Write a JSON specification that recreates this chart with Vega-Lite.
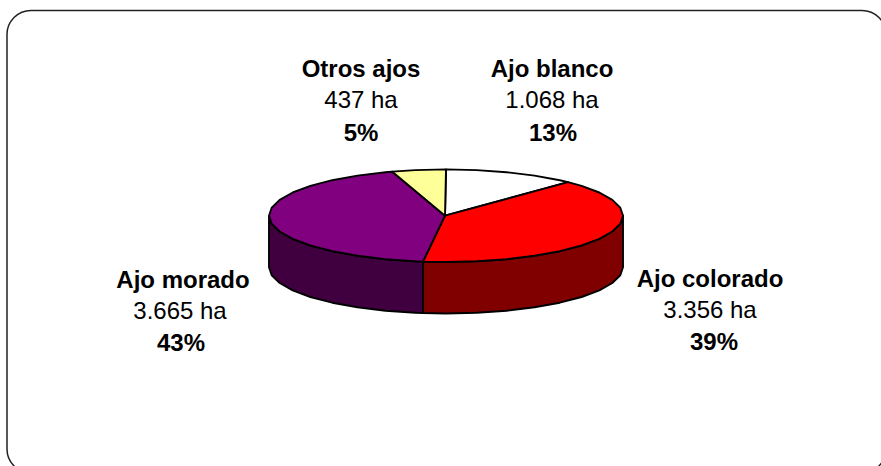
{"$schema":"https://vega.github.io/schema/vega-lite/v6.json","width":881,"height":466,"autosize":{"type":"fit","contains":"padding"},"padding":0,"background":"white","config":{"view":{"stroke":null}},
"datasets":{"frame":[{"x":7,"x2":886,"y":10.5,"y2":473}],
"pie":[
{"part":"Ajo morado lado","o":0,"x":269,"y":215.7},{"part":"Ajo morado lado","o":1,"x":271.7,"y":223.7},{"part":"Ajo morado lado","o":2,"x":279.7,"y":231.5},{"part":"Ajo morado lado","o":3,"x":292.7,"y":238.9},{"part":"Ajo morado lado","o":4,"x":310.4,"y":245.5},{"part":"Ajo morado lado","o":5,"x":332.2,"y":251.2},{"part":"Ajo morado lado","o":6,"x":357.5,"y":255.8},{"part":"Ajo morado lado","o":7,"x":385.5,"y":259.2},{"part":"Ajo morado lado","o":8,"x":415.3,"y":261.3},{"part":"Ajo morado lado","o":9,"x":423,"y":261.6},{"part":"Ajo morado lado","o":10,"x":423,"y":313},{"part":"Ajo morado lado","o":11,"x":415.3,"y":312.8},{"part":"Ajo morado lado","o":12,"x":385.5,"y":310.7},{"part":"Ajo morado lado","o":13,"x":357.5,"y":307.3},{"part":"Ajo morado lado","o":14,"x":332.2,"y":302.7},{"part":"Ajo morado lado","o":15,"x":310.4,"y":297},{"part":"Ajo morado lado","o":16,"x":292.7,"y":290.4},{"part":"Ajo morado lado","o":17,"x":279.7,"y":283},{"part":"Ajo morado lado","o":18,"x":271.7,"y":275.2},{"part":"Ajo morado lado","o":19,"x":269,"y":267.2},{"part":"Ajo morado lado","o":20,"x":269,"y":215.7},
{"part":"Ajo colorado lado","o":0,"x":423,"y":261.6},{"part":"Ajo colorado lado","o":1,"x":446,"y":262},{"part":"Ajo colorado lado","o":2,"x":476.7,"y":261.3},{"part":"Ajo colorado lado","o":3,"x":506.5,"y":259.2},{"part":"Ajo colorado lado","o":4,"x":534.5,"y":255.8},{"part":"Ajo colorado lado","o":5,"x":559.8,"y":251.2},{"part":"Ajo colorado lado","o":6,"x":581.6,"y":245.5},{"part":"Ajo colorado lado","o":7,"x":599.3,"y":238.9},{"part":"Ajo colorado lado","o":8,"x":612.3,"y":231.5},{"part":"Ajo colorado lado","o":9,"x":620.3,"y":223.7},{"part":"Ajo colorado lado","o":10,"x":623,"y":215.7},{"part":"Ajo colorado lado","o":11,"x":623,"y":267.2},{"part":"Ajo colorado lado","o":12,"x":620.3,"y":275.2},{"part":"Ajo colorado lado","o":13,"x":612.3,"y":283},{"part":"Ajo colorado lado","o":14,"x":599.3,"y":290.4},{"part":"Ajo colorado lado","o":15,"x":581.6,"y":297},{"part":"Ajo colorado lado","o":16,"x":559.8,"y":302.7},{"part":"Ajo colorado lado","o":17,"x":534.5,"y":307.3},{"part":"Ajo colorado lado","o":18,"x":506.5,"y":310.7},{"part":"Ajo colorado lado","o":19,"x":476.7,"y":312.8},{"part":"Ajo colorado lado","o":20,"x":446,"y":313.5},{"part":"Ajo colorado lado","o":21,"x":423,"y":313},{"part":"Ajo colorado lado","o":22,"x":423,"y":261.6},
{"part":"Ajo blanco","o":0,"x":445,"y":215.7},{"part":"Ajo blanco","o":1,"x":446,"y":169.4},{"part":"Ajo blanco","o":2,"x":476.7,"y":170.1},{"part":"Ajo blanco","o":3,"x":506.5,"y":172.2},{"part":"Ajo blanco","o":4,"x":534.5,"y":175.6},{"part":"Ajo blanco","o":5,"x":559.8,"y":180.2},{"part":"Ajo blanco","o":6,"x":568,"y":182.1},{"part":"Ajo blanco","o":7,"x":445,"y":215.7},
{"part":"Ajo colorado","o":0,"x":445,"y":215.7},{"part":"Ajo colorado","o":1,"x":568,"y":182.1},{"part":"Ajo colorado","o":2,"x":581.6,"y":185.9},{"part":"Ajo colorado","o":3,"x":599.3,"y":192.5},{"part":"Ajo colorado","o":4,"x":612.3,"y":199.9},{"part":"Ajo colorado","o":5,"x":620.3,"y":207.7},{"part":"Ajo colorado","o":6,"x":623,"y":215.7},{"part":"Ajo colorado","o":7,"x":620.3,"y":223.7},{"part":"Ajo colorado","o":8,"x":612.3,"y":231.5},{"part":"Ajo colorado","o":9,"x":599.3,"y":238.9},{"part":"Ajo colorado","o":10,"x":581.6,"y":245.5},{"part":"Ajo colorado","o":11,"x":559.8,"y":251.2},{"part":"Ajo colorado","o":12,"x":534.5,"y":255.8},{"part":"Ajo colorado","o":13,"x":506.5,"y":259.2},{"part":"Ajo colorado","o":14,"x":476.7,"y":261.3},{"part":"Ajo colorado","o":15,"x":446,"y":262},{"part":"Ajo colorado","o":16,"x":423,"y":261.6},{"part":"Ajo colorado","o":17,"x":445,"y":215.7},
{"part":"Ajo morado","o":0,"x":445,"y":215.7},{"part":"Ajo morado","o":1,"x":423,"y":261.6},{"part":"Ajo morado","o":2,"x":415.3,"y":261.3},{"part":"Ajo morado","o":3,"x":385.5,"y":259.2},{"part":"Ajo morado","o":4,"x":357.5,"y":255.8},{"part":"Ajo morado","o":5,"x":332.2,"y":251.2},{"part":"Ajo morado","o":6,"x":310.4,"y":245.5},{"part":"Ajo morado","o":7,"x":292.7,"y":238.9},{"part":"Ajo morado","o":8,"x":279.7,"y":231.5},{"part":"Ajo morado","o":9,"x":271.7,"y":223.7},{"part":"Ajo morado","o":10,"x":269,"y":215.7},{"part":"Ajo morado","o":11,"x":271.7,"y":207.7},{"part":"Ajo morado","o":12,"x":279.7,"y":199.9},{"part":"Ajo morado","o":13,"x":292.7,"y":192.5},{"part":"Ajo morado","o":14,"x":310.4,"y":185.9},{"part":"Ajo morado","o":15,"x":332.2,"y":180.2},{"part":"Ajo morado","o":16,"x":357.5,"y":175.6},{"part":"Ajo morado","o":17,"x":385.5,"y":172.2},{"part":"Ajo morado","o":18,"x":392,"y":171.6},{"part":"Ajo morado","o":19,"x":445,"y":215.7},
{"part":"Otros ajos","o":0,"x":445,"y":215.7},{"part":"Otros ajos","o":1,"x":392,"y":171.6},{"part":"Otros ajos","o":2,"x":415.3,"y":170.1},{"part":"Otros ajos","o":3,"x":446,"y":169.4},{"part":"Otros ajos","o":4,"x":445,"y":215.7}
],
"labels":[
{"t":"Otros ajos","w":"bold","x":361,"y":77},{"t":"437 ha","w":"normal","x":361,"y":108},{"t":"5%","w":"bold","x":361,"y":141},
{"t":"Ajo blanco","w":"bold","x":552,"y":77},{"t":"1.068 ha","w":"normal","x":552,"y":108},{"t":"13%","w":"bold","x":553,"y":141},
{"t":"Ajo morado","w":"bold","x":183,"y":288},{"t":"3.665 ha","w":"normal","x":180,"y":319},{"t":"43%","w":"bold","x":181,"y":351},
{"t":"Ajo colorado","w":"bold","x":710,"y":287},{"t":"3.356 ha","w":"normal","x":710,"y":318},{"t":"39%","w":"bold","x":714,"y":350}
]},
"data":{"name":"pie"},
"layer":[
{"data":{"name":"frame"},"mark":{"type":"rect","cornerRadius":24,"fill":null,"filled":false,"stroke":"#222222","strokeWidth":1.5,"clip":true},
"encoding":{"x":{"field":"x","type":"quantitative","scale":{"domain":[0,881]},"axis":null},"x2":{"field":"x2"},"y":{"field":"y","type":"quantitative","scale":{"domain":[466,0]},"axis":null},"y2":{"field":"y2"}}},
{"mark":{"type":"line","stroke":"black","strokeWidth":1.9,"strokeJoin":"round","filled":false},
"encoding":{"x":{"field":"x","type":"quantitative","scale":{"domain":[0,881]},"axis":null},"y":{"field":"y","type":"quantitative","scale":{"domain":[466,0]},"axis":null},"order":{"field":"o","type":"quantitative"},
"fill":{"field":"part","type":"nominal","legend":null,"scale":{"domain":["Ajo morado lado","Ajo colorado lado","Ajo blanco","Ajo colorado","Ajo morado","Otros ajos"],"range":["#400040","#800000","#FFFFFF","#FF0000","#800080","#FFFF99"]}}}},
{"data":{"name":"labels"},"transform":[{"filter":"datum.w === 'bold'"}],"mark":{"type":"text","font":"Liberation Sans","fontSize":24,"fontWeight":"bold","baseline":"alphabetic","align":"center","color":"black"},
"encoding":{"x":{"field":"x","type":"quantitative","scale":{"domain":[0,881]},"axis":null},"y":{"field":"y","type":"quantitative","scale":{"domain":[466,0]},"axis":null},"text":{"field":"t"}}},
{"data":{"name":"labels"},"transform":[{"filter":"datum.w === 'normal'"}],"mark":{"type":"text","font":"Liberation Sans","fontSize":24,"baseline":"alphabetic","align":"center","color":"black"},
"encoding":{"x":{"field":"x","type":"quantitative","scale":{"domain":[0,881]},"axis":null},"y":{"field":"y","type":"quantitative","scale":{"domain":[466,0]},"axis":null},"text":{"field":"t"}}}
]}
